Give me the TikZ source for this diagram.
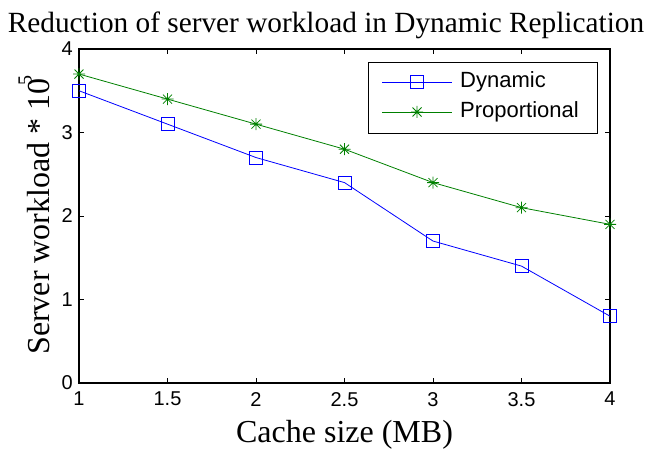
\documentclass[tikz,border=0pt]{standalone}
\usepackage{fontspec}
\setmainfont{Liberation Serif}
\newfontfamily\arialf{Liberation Sans}
\definecolor{mblue}{RGB}{0,0,255}
\definecolor{mgreen}{RGB}{0,128,0}
\tikzset{
  sqmark/.style={draw=mblue, line width=0.8pt, minimum size=13pt, inner sep=0pt, fill=none},
  dynline/.style={draw=mblue, line width=0.8pt},
  propline/.style={draw=mgreen, line width=0.8pt},
  ticklab/.style={font=\arialf\fontsize{20}{20}\selectfont, inner sep=0pt},
  leglab/.style={font=\arialf\fontsize{22}{22}\selectfont, inner sep=0pt, anchor=west},
  axlab/.style={font=\fontsize{32}{32}\selectfont, inner sep=0pt},
}
\newcommand{\astr}[1]{%
  \draw[mgreen, line width=0.8pt] ([xshift=-6pt]#1) -- ([xshift=6pt]#1)
    ([yshift=-6pt]#1) -- ([yshift=6pt]#1)
    ([shift={(-4.5pt,-4.5pt)}]#1) -- ([shift={(4.5pt,4.5pt)}]#1)
    ([shift={(-4.5pt,4.5pt)}]#1) -- ([shift={(4.5pt,-4.5pt)}]#1);}
\begin{document}
\begin{tikzpicture}[x=1pt,y=1pt]
\useasboundingbox (0,0) rectangle (652,453);
% title and labels
\node[axlab, font=\fontsize{29.3}{29.3}\selectfont] (title) at (326,428) {Reduction of server workload in Dynamic Replication};
\node[axlab] (xlab) at (344.5,18) {Cache size (MB)};
\node[axlab, rotate=90] (ylab) at (34,238) {Server workload * 10\raisebox{0.55em}{\fontsize{20}{20}\selectfont\kern-0.35em 5}};
\begin{scope}[x=177pt, y=83.5pt, shift={(-98pt,70pt)}]
  % axes box
  \draw[line width=1.1pt] (1,0) rectangle (4,4);
  % ticks
  \foreach \v in {1,1.5,2,2.5,3,3.5,4} {
    \draw[line width=0.8pt] (\v,0) -- ++(0,5pt) (\v,4) -- ++(0,-5pt);
    \node[ticklab, anchor=north] (xt\v) at ([yshift=-9pt]\v,0) {\v};
  }
  \foreach \w in {0,1,2,3,4} {
    \draw[line width=0.8pt] (1,\w) -- ++(5pt,0) (4,\w) -- ++(-5pt,0);
    \node[ticklab, anchor=east] (yt\w) at ([xshift=-6pt]1,\w) {\w};
  }
  % data coordinates
  \foreach \i/\v/\d/\p in {1/1/3.5/3.7, 2/1.5/3.1/3.4, 3/2/2.7/3.1, 4/2.5/2.4/2.8, 5/3/1.7/2.4, 6/3.5/1.4/2.1, 7/4/0.8/1.9} {
    \coordinate (d\i) at (\v,\d);
    \coordinate (p\i) at (\v,\p);
  }
  \draw[propline] (p1) -- (p2) -- (p3) -- (p4) -- (p5) -- (p6) -- (p7);
  \draw[dynline] (d1) -- (d2) -- (d3) -- (d4) -- (d5) -- (d6) -- (d7);
  \foreach \i in {1,...,7} {
    \node[sqmark] (ds\i) at (d\i) {};
    \astr{p\i}
  }
\end{scope}
% legend
\node[draw, line width=0.9pt, minimum width=229pt, minimum height=71pt, inner sep=0pt, fill=white] (legend) at (482.5,355.5) {};
\coordinate (l1a) at (382,371);
\coordinate (l1b) at (452,371);
\coordinate (l2a) at (382,341);
\coordinate (l2b) at (452,341);
\draw[dynline] (l1a) -- (l1b);
\node[sqmark] (lm1) at (417,371) {};
\draw[propline] (l2a) -- (l2b);
\coordinate (lm2) at (417,341);
\astr{lm2}
\node[leglab] (lt1) at (460,371) {Dynamic};
\node[leglab] (lt2) at (460,341) {Proportional};
\end{tikzpicture}
\end{document}
